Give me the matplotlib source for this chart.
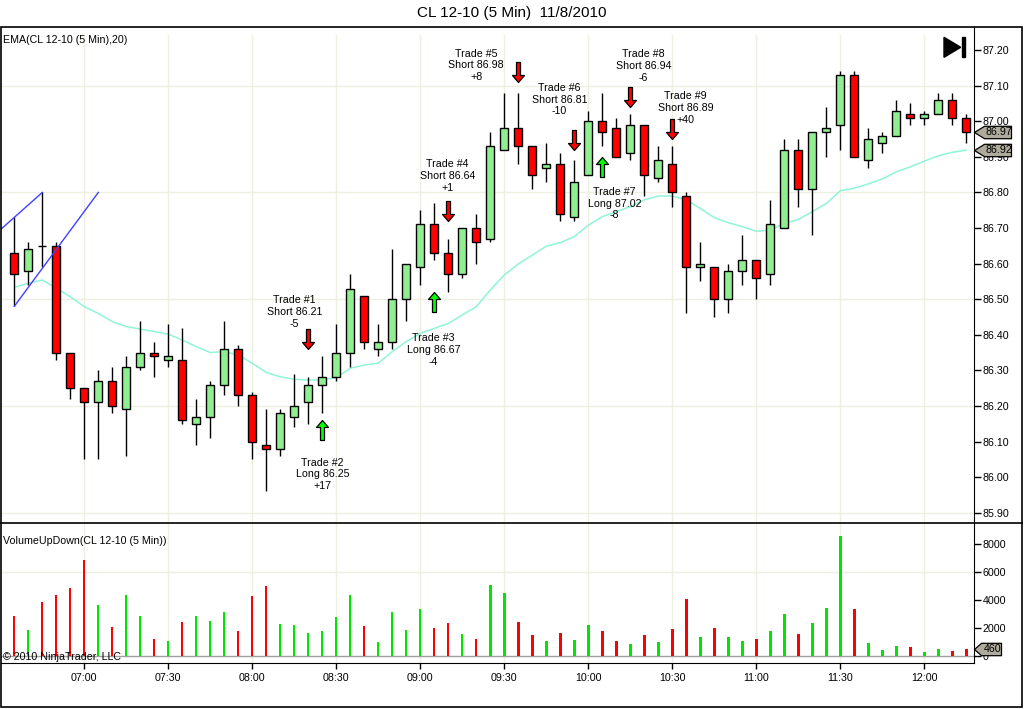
import matplotlib
matplotlib.use("Agg")
import matplotlib.pyplot as plt
import numpy as np
import pandas as pd
from matplotlib.path import Path
from matplotlib.patches import Rectangle, Polygon
from matplotlib.lines import Line2D
from matplotlib.ticker import MultipleLocator, FormatStrFormatter

plt.rcParams['font.family'] = ['Liberation Sans', 'DejaVu Sans']

# 5 minute bars, CL 12-10, 11/8/2010
opens = [86.63, 86.58, 86.65, 86.65, 86.35, 86.25, 86.21, 86.27, 86.19, 86.31,
         86.35, 86.33, 86.33, 86.15, 86.17, 86.26, 86.36, 86.23, 86.09, 86.08,
         86.17, 86.21, 86.26, 86.28, 86.35, 86.51, 86.36, 86.38, 86.50, 86.59,
         86.71, 86.63, 86.57, 86.70, 86.67, 86.92, 86.98, 86.93, 86.87, 86.88,
         86.73, 86.85, 87.00, 86.98, 86.91, 86.99, 86.84, 86.88, 86.79, 86.59,
         86.59, 86.50, 86.58, 86.61, 86.57, 86.70, 86.92, 86.81, 86.97, 86.99,
         87.13, 86.89, 86.94, 86.96, 87.02, 87.01, 87.02, 87.06, 87.01]
highs = [86.73, 86.66, 86.80, 86.66, 86.35, 86.25, 86.30, 86.31, 86.34, 86.44,
         86.38, 86.43, 86.42, 86.22, 86.27, 86.44, 86.37, 86.24, 86.19, 86.19,
         86.29, 86.28, 86.34, 86.43, 86.57, 86.51, 86.43, 86.64, 86.60, 86.75,
         86.77, 86.67, 86.70, 86.74, 86.97, 87.08, 87.08, 86.93, 86.94, 86.91,
         86.89, 87.03, 87.08, 87.01, 87.02, 86.99, 86.93, 86.93, 86.80, 86.66,
         86.59, 86.60, 86.68, 86.61, 86.78, 86.95, 86.95, 86.97, 87.04, 87.14,
         87.14, 86.98, 86.97, 87.06, 87.05, 87.03, 87.08, 87.08, 87.02]
lows = [86.48, 86.54, 86.59, 86.33, 86.22, 86.05, 86.05, 86.18, 86.06, 86.30,
        86.28, 86.31, 86.15, 86.09, 86.11, 86.23, 86.20, 86.05, 85.96, 86.06,
        86.14, 86.15, 86.18, 86.27, 86.31, 86.36, 86.34, 86.36, 86.44, 86.54,
        86.61, 86.52, 86.56, 86.60, 86.66, 86.92, 86.88, 86.81, 86.83, 86.72,
        86.72, 86.85, 86.93, 86.90, 86.89, 86.79, 86.83, 86.76, 86.46, 86.55,
        86.45, 86.46, 86.54, 86.50, 86.54, 86.70, 86.76, 86.68, 86.90, 86.92,
        86.90, 86.87, 86.91, 86.96, 86.99, 86.99, 87.02, 86.99, 86.94]
closes = [86.57, 86.64, 86.65, 86.35, 86.25, 86.21, 86.27, 86.20, 86.31, 86.35,
          86.34, 86.34, 86.16, 86.17, 86.26, 86.36, 86.23, 86.10, 86.08, 86.18,
          86.20, 86.26, 86.28, 86.35, 86.53, 86.38, 86.38, 86.50, 86.60, 86.71,
          86.63, 86.57, 86.70, 86.66, 86.93, 86.98, 86.93, 86.85, 86.88, 86.74,
          86.83, 87.00, 86.97, 86.90, 86.99, 86.85, 86.89, 86.80, 86.59, 86.60,
          86.50, 86.58, 86.61, 86.56, 86.71, 86.92, 86.81, 86.97, 86.98, 87.13,
          86.90, 86.95, 86.96, 87.03, 87.01, 87.02, 87.06, 87.01, 86.97]
ema20 = [86.533, 86.545, 86.554, 86.531, 86.507, 86.479, 86.460, 86.437, 86.423, 86.416,
         86.409, 86.402, 86.385, 86.367, 86.350, 86.353, 86.343, 86.320, 86.294, 86.282,
         86.275, 86.273, 86.273, 86.280, 86.306, 86.315, 86.320, 86.353, 86.381, 86.404,
         86.418, 86.432, 86.456, 86.479, 86.526, 86.568, 86.599, 86.624, 86.649, 86.659,
         86.676, 86.708, 86.732, 86.746, 86.760, 86.779, 86.790, 86.790, 86.779, 86.755,
         86.729, 86.715, 86.704, 86.691, 86.694, 86.713, 86.724, 86.746, 86.769, 86.805,
         86.812, 86.824, 86.838, 86.858, 86.872, 86.888, 86.903, 86.913, 86.919]
volumes = [2830, 1830, 3830, 4330, 4830, 6830, 3620, 2050, 4330, 2830,
           1190, 1050, 2400, 2830, 2480, 3120, 1760, 4260, 4970, 2260,
           2190, 1620, 1760, 2760, 4330, 2120, 980, 3120, 1830, 3330,
           1980, 2330, 1550, 1190, 5050, 4470, 2400, 1480, 1050, 1620,
           1120, 2190, 1760, 1050, 830, 1480, 980, 1900, 4050, 1330,
           1980, 1330, 1050, 1190, 1760, 2980, 1550, 2330, 3400, 8540,
           3330, 900, 400, 690, 620, 260, 480, 330, 460]
times = pd.date_range("2010-11-08 06:35", periods=len(closes), freq="5min")

# trades: bar index, side, entry, result (ticks), marker price
trade_bar = [21, 22, 30, 31, 36, 40, 42, 44, 47]
trade_side = ["Short", "Long", "Long", "Short", "Short", "Short", "Long", "Short", "Short"]
trade_price = [86.21, 86.25, 86.67, 86.64, 86.98, 86.81, 87.02, 86.94, 86.89]
trade_pnl = [-5, 17, -4, 1, 8, -10, -8, -6, 40]
trade_mark = [86.36, 86.16, 86.52, 86.72, 87.11, 86.92, 86.90, 87.04, 86.95]
# label offset from arrow tip (pixels)
label_off = [(-14, 37), (0, -54), (-1, -58), (-1, 45), (-42, 17),
             (-15, 50), (12, -47), (13, 41), (13, 31)]

# drawn channel lines
line1_x, line1_y = [-1, 2], [86.695, 86.80]
line2_x, line2_y = [0, 6], [86.48, 86.80]

o = np.array(opens); h = np.array(highs); l = np.array(lows); c = np.array(closes)
x = np.arange(len(c))
up = c > o
candle_col = np.where(up, '#90ee90', '#ff0000')
vol_col = np.where(up, '#00e600', '#ff0000')
tick_idx = [i for i, t in enumerate(times) if t.minute % 30 == 0]
tick_lab = [times[i].strftime('%H:%M') for i in tick_idx]

W, H = 1024, 709
def fx(px): return px / W
def fy(py): return 1 - py / H

fig = plt.figure(figsize=(W / 100, H / 100), dpi=100)
fig.patch.set_facecolor('white')
grid_col = '#efefe0'
fs = 7.7

ax = fig.add_axes([fx(1), fy(523), fx(974.3) - fx(1), fy(27) - fy(523)])
axv = fig.add_axes([fx(1), fy(663.3), fx(974.3) - fx(1), fy(523) - fy(663.3)], sharex=ax)

for a, top in ((ax, 0.984), (axv, 1.0)):
    a.set_xlim(-0.95, 68.57)
    a.yaxis.tick_right()
    a.tick_params(axis='y', direction='out', length=5, width=1, labelsize=fs, pad=1, colors='black')
    for s in ('left', 'top'):
        a.spines[s].set_visible(False)
    for t in tick_idx:
        a.axvline(t, ymax=top, color=grid_col, lw=1, zorder=0)

# price panel
ax.set_ylim(85.871, 87.265)
ax.yaxis.set_major_locator(MultipleLocator(0.1))
ax.yaxis.set_major_formatter(FormatStrFormatter('%.2f'))
ax.tick_params(axis='x', bottom=False, labelbottom=False)
ax.spines['bottom'].set_visible(False)
for g in np.arange(85.9, 87.2, 0.3):
    ax.axhline(g, color=grid_col, lw=1, zorder=0)

ax.plot(line1_x, line1_y, color='#4040ff', lw=1, zorder=4)
ax.plot(line2_x, line2_y, color='#4040ff', lw=1, zorder=4)
ax.plot(x, ema20, color='#8ff5d8', lw=1.1, zorder=1)
ax.vlines(x, l, h, color='black', lw=1, zorder=2)
ax.bar(x, np.abs(c - o), bottom=np.minimum(o, c), width=0.56, color=candle_col,
       edgecolor='black', linewidth=1, zorder=3)

down_arrow = Path([(0, 0), (-6, 7), (-2, 7), (-2, 20), (2, 20), (2, 7), (6, 7), (0, 0)], closed=True)
up_arrow = Path([(0, 0), (-6, -7), (-2, -7), (-2, -20), (2, -20), (2, -7), (6, -7), (0, 0)], closed=True)
for i, n in enumerate(trade_bar):
    short = trade_side[i] == "Short"
    ax.plot(n, trade_mark[i], marker=down_arrow if short else up_arrow, ms=28.8,
            mfc='#ff0000' if short else '#00ff00', mec='black', mew=0.9, zorder=5)
    txt = f"Trade #{i + 1}\n{trade_side[i]} {trade_price[i]:.2f}\n{trade_pnl[i]:+d}"
    ax.annotate(txt, (n, trade_mark[i]), xytext=label_off[i], textcoords='offset pixels',
                ha='center', va='center', fontsize=fs, linespacing=1.2, zorder=6)

# last price / ema tags
def tag(a, y, text, body, width):
    p = Path([(0, 0), (body, 6.2), (width, 6.2), (width, -6.2), (body, -6.2), (0, 0)], closed=True)
    a.plot(a.get_xlim()[1], y, marker=p, ms=width * 0.72 / 0.5, mfc='#aeaa9c', mec='black',
           mew=0.9, clip_on=False, zorder=10)
    a.annotate(text, (1, y), xycoords=('axes fraction', 'data'), xytext=(body + (width - body) / 2 + 1, 0),
               textcoords='offset pixels', ha='center', va='center', fontsize=fs,
               annotation_clip=False, zorder=11)

tag(ax, closes[-1], f"{closes[-1]:.2f}", 10, 37)
tag(ax, ema20[-1], f"{ema20[-1]:.2f}", 10, 37)

# volume panel
axv.set_ylim(-543, 9479)
axv.yaxis.set_major_locator(MultipleLocator(2000))
axv.axhline(6000, color=grid_col, lw=1, zorder=0)
axv.axhline(0, color='#a0a0a0', lw=1, zorder=1)
axv.bar(x, volumes, width=0.17, color=vol_col, zorder=2)
axv.set_xticks(tick_idx)
axv.set_xticklabels(tick_lab)
axv.tick_params(axis='x', direction='out', length=4, width=1, labelsize=fs, pad=3)
tag(axv, volumes[-1], str(volumes[-1]), 7, 27)

# frame and labels
fig.add_artist(Rectangle((fx(1), fy(707)), fx(1022) - fx(1), fy(27) - fy(707), transform=fig.transFigure,
                         fill=False, ec='black', lw=1.2))
fig.add_artist(Line2D([fx(1), fx(1022)], [fy(523), fy(523)], transform=fig.transFigure, color='black', lw=1.2))
fig.add_artist(Polygon([(fx(944), fy(37.3)), (fx(944), fy(57.3)), (fx(960.7), fy(47.3))],
                       transform=fig.transFigure, color='black'))
fig.add_artist(Rectangle((fx(961.7), fy(57.3)), fx(3.3), fy(37.3) - fy(57.3), transform=fig.transFigure, color='black'))

fig.text(0.5, fy(13), "CL 12-10 (5 Min)  11/8/2010", ha='center', va='center', fontsize=11)
fig.text(fx(3), fy(40), "EMA(CL 12-10 (5 Min),20)", ha='left', va='center', fontsize=fs)
fig.text(fx(3), fy(541.5), "VolumeUpDown(CL 12-10 (5 Min))", ha='left', va='center', fontsize=fs)
fig.text(fx(3), fy(657), "\u00a9 2010 NinjaTrader, LLC", ha='left', va='center', fontsize=fs, zorder=20)

fig.savefig('out.png', dpi=100, facecolor='white')
